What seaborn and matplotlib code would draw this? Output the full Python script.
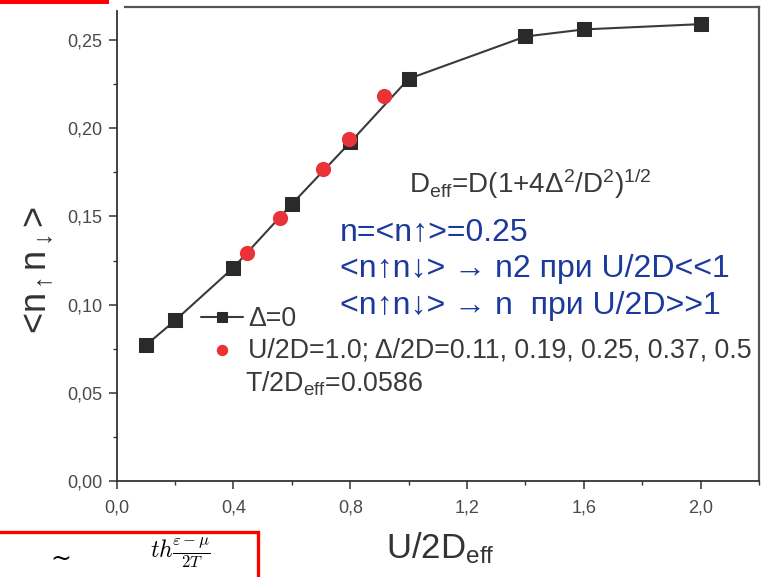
import matplotlib
matplotlib.use("Agg")
import matplotlib.pyplot as plt
from matplotlib.patches import Rectangle
from matplotlib.ticker import MultipleLocator, FuncFormatter
import seaborn as sns
import pandas as pd

# Delta = 0 series
u_delta0 = [0.1, 0.2, 0.4, 0.6, 0.8, 1.0, 1.4, 1.6, 2.0]
docc_delta0 = [0.077, 0.091, 0.121, 0.157, 0.192, 0.228, 0.252, 0.256, 0.259]

# U/2D = 1.0 with finite Delta/2D, rescaled to U/2D_eff
u_delta = [0.447, 0.559, 0.707, 0.796, 0.915]
docc_delta = [0.129, 0.149, 0.177, 0.194, 0.218]

x_ticks = [0.0, 0.4, 0.8, 1.2, 1.6, 2.0]
y_ticks = [0.00, 0.05, 0.10, 0.15, 0.20, 0.25]

label_delta0 = "Δ=0"
label_delta = "U/2D=1.0; Δ/2D=0.11, 0.19, 0.25, 0.37, 0.5"
label_temp = r"T/2D$_{\rm eff}$=0.0586"
formula_deff = r"D$_{\rm eff}$=D(1+4Δ$^{2}$/D$^{2}$)$^{1/2}$"
notes = ["n=<n↑>=0.25",
         "<n↑n↓> → n2 при U/2D<<1",
         "<n↑n↓> → n  при U/2D>>1"]

df0 = pd.DataFrame({"u": u_delta0, "d": docc_delta0})
df1 = pd.DataFrame({"u": u_delta, "d": docc_delta})

sns.set_theme(style="ticks")
plt.rcParams["font.family"] = ["Liberation Sans", "DejaVu Sans"]
plt.rcParams["mathtext.fontset"] = "custom"
plt.rcParams["mathtext.rm"] = "Liberation Sans"
plt.rcParams["mathtext.it"] = "Liberation Sans:italic"
plt.rcParams["mathtext.bf"] = "Liberation Sans:bold"

W, H = 763, 577
fig = plt.figure(figsize=(W / 100, H / 100), dpi=100)
fig.patch.set_facecolor("white")

def fx(px):
    return px / W

def fy(py):
    return 1 - py / H

left, right, top, bottom = 116.7, 759, 6.5, 481
ax = fig.add_axes([fx(left), fy(bottom), fx(right - left), (bottom - top) / H])
ax.set_facecolor("white")

dark = "#2a2a2a"
red = "#ea3338"
grey_txt = "#3a3a3a"

sns.lineplot(data=df0, x="u", y="d", ax=ax, color="#3a3a3a", linewidth=1.5,
             marker="s", markersize=10, markerfacecolor=dark,
             markeredgecolor=dark, label=label_delta0, zorder=2)
sns.scatterplot(data=df1, x="u", y="d", ax=ax, color=red, s=120,
                linewidth=0, label=label_delta, zorder=3)

ax.set_xlim(0, 2.2)
ax.set_ylim(0, 0.269)
ax.set_xticks(x_ticks)
ax.set_yticks(y_ticks)
ax.xaxis.set_minor_locator(MultipleLocator(0.2))
ax.yaxis.set_minor_locator(MultipleLocator(0.025))
ax.xaxis.set_major_formatter(FuncFormatter(lambda v, p: f"{v:.1f}".replace(".", ",")))
ax.yaxis.set_major_formatter(FuncFormatter(lambda v, p: f"{v:.2f}".replace(".", ",")))
ax.tick_params(axis="both", which="major", direction="out", length=5.5, width=1.1,
               color="#333333", labelsize=13, labelcolor="#4a4a4a", pad=5)
ax.tick_params(axis="both", which="minor", direction="out", length=3, width=1.0,
               color="#333333")
ax.tick_params(axis="x", which="major", pad=8)

for side in ["left", "bottom"]:
    ax.spines[side].set_color("#333333")
    ax.spines[side].set_linewidth(1.3)
for side in ["top", "right"]:
    ax.spines[side].set_visible(True)
    ax.spines[side].set_color("#555555")
    ax.spines[side].set_linewidth(1.6)
ax.spines["top"].set_bounds(0.03, 2.2)
ax.spines["left"].set_bounds(0, 0.2665)

ax.set_xlabel(r"U/2D$_{\rm eff}$", fontsize=25, color="#333333")
ax.xaxis.set_label_coords(0.503, -0.103)
ax.set_ylabel(r"<n$_{\uparrow}$n$_{\downarrow}$>", fontsize=26, color="#333333")
ax.yaxis.set_label_coords(-0.124, 0.445)
ax.yaxis.label.set_va("center")

leg = ax.legend(loc="upper left", bbox_to_anchor=(fx(201), fy(306)),
                bbox_transform=fig.transFigure, frameon=False, fontsize=19.3,
                handlelength=1.55, handletextpad=0.2, labelspacing=0.2,
                borderpad=0, borderaxespad=0, labelcolor=grey_txt,
                markerscale=0.75)

fig.text(fx(245), fy(392), label_temp, fontsize=19.3, color=grey_txt, va="baseline")
fig.text(fx(409), fy(193), formula_deff, fontsize=20, color=grey_txt, va="baseline")

blue = "#1c3a9c"
for txt, base in zip(notes, [240, 277, 314]):
    fig.text(fx(340), fy(base), txt, fontsize=23, color=blue, va="baseline")

# red slide frames around the plot
fig.add_artist(Rectangle((0, fy(4)), fx(109), 4 / H, transform=fig.transFigure,
                         facecolor="#ff0000", edgecolor="none"))
fig.add_artist(Rectangle((fx(-5), fy(600)), fx(263), 68 / H, transform=fig.transFigure,
                         facecolor="none", edgecolor="#ff0000", linewidth=2.4,
                         clip_on=False))
fig.text(fx(150), fy(558), r"$th\frac{\varepsilon-\mu}{2T}$", fontsize=17,
         color="black", va="baseline", math_fontfamily="cm")
fig.text(fx(50), fy(566), "~", fontsize=18, color="black", va="baseline",
         family="DejaVu Serif")

fig.savefig("out.png", dpi=100, facecolor="white")
